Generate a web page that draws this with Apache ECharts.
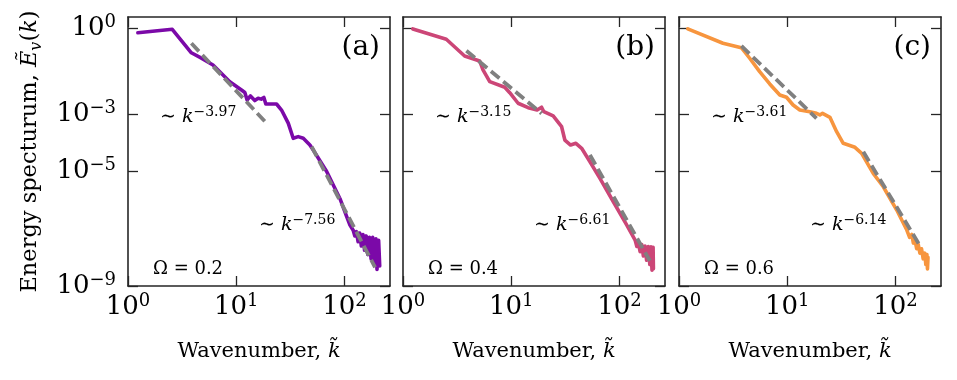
<!DOCTYPE html>
<html>
<head>
<meta charset="utf-8">
<script src="https://cdn.jsdelivr.net/npm/echarts@6/dist/echarts.min.js"></script>
<style>
html, body { margin: 0; padding: 0; background: #fff; }
#chart { width: 957px; height: 380px; }
</style>
</head>
<body>
<div id="chart"></div>
<script>
// values (k, E) per panel
const kA = [1.233, 2.564, 3.846, 4.764, 6.095, 8.71, 11.17, 12.0, 12.59, 13.52, 14.83, 15.92, 16.98, 17.99, 18.75, 23.55, 26.18, 30.2, 33.57, 37.33, 41.59, 47.86, 51.4, 68.39, 90.78, 104.7, 112.2,
  120.2, 124.5, 128.8, 133.4, 138.0, 142.9, 147.9, 153.1, 158.5, 164.1, 169.8, 175.8, 182.0, 188.4, 195.0, 199.5, 206.5, 211.3];
const eA = [0.708, 0.933, 0.141, 0.0912, 0.0525, 0.0138, 0.00708, 0.00575, 0.00316, 0.00437, 0.00302, 0.00363, 0.00339, 0.00389, 0.00229, 0.00229, 0.00141, 4.9e-4, 1.45e-4, 1.66e-4, 1.45e-4, 8.51e-5, 5.62e-5, 1.0e-5, 1.12e-6, 2.63e-7, 1.35e-7,
  8.91e-8, 5.62e-8, 7.94e-8, 3.55e-8, 7.08e-8, 2.51e-8, 6.31e-8, 1.78e-8, 5.62e-8, 1.26e-8, 5.01e-8, 8.91e-9, 5.01e-8, 5.62e-9, 4.47e-8, 3.8e-9, 3.98e-8, 5.01e-9];

const kB = [1.233, 2.512, 3.707, 5.105, 5.483, 6.324, 8.71, 9.683, 11.56, 14.32, 17.34, 19.05, 20.0, 24.38, 29.17, 31.26, 35.32, 39.54, 44.67, 53.33, 65.92, 87.7, 116.7, 139.3,
  144.5, 149.6, 154.9, 160.3, 166.0, 171.8, 177.8, 184.1, 190.5, 195.0, 199.5, 204.2, 205.6];
const eB = [0.962, 0.419, 0.109, 0.0731, 0.0354, 0.0138, 0.00879, 0.00569, 0.00243, 0.0017, 0.00141, 0.00176, 0.00123, 8.73e-4, 3.68e-4, 1.26e-4, 8.43e-5, 9.68e-5, 6.47e-5, 2.2e-5, 5.78e-6, 8.79e-7, 1.35e-7, 4.03e-8,
  2.4e-8, 3.16e-8, 1.58e-8, 2.82e-8, 1.12e-8, 2.51e-8, 7.94e-9, 2.4e-8, 5.62e-9, 2.34e-8, 3.55e-9, 2.24e-8, 3.98e-9];

const kC = [1.205, 2.547, 3.767, 4.498, 5.559, 6.887, 8.531, 9.84, 11.32, 13.06, 16.14, 18.62, 20.0, 21.18, 24.77, 28.58, 32.89, 42.17, 48.64, 62.23, 77.09, 102.6, 127.1,
  134.9, 141.3, 146.2, 151.4, 156.7, 162.2, 167.9, 173.8, 179.9, 186.2, 190.5, 195.0, 197.2, 199.5];
const eC = [0.962, 0.304, 0.213, 0.0908, 0.0309, 0.0115, 0.00473, 0.00393, 0.00211, 0.00141, 0.00123, 0.00108, 9.46e-4, 0.00108, 7.85e-4, 2.47e-4, 9.68e-5, 7.01e-5, 4.33e-5, 8.65e-6, 2.94e-6, 4.51e-7, 9.02e-8,
  5.01e-8, 6.31e-8, 3.16e-8, 3.98e-8, 2.0e-8, 2.82e-8, 1.41e-8, 2.0e-8, 8.91e-9, 1.41e-8, 5.62e-9, 1.26e-8, 3.98e-9, 1.0e-8];

// dashed power-law guides, end points [k, E]
const fitA1 = [[3.85, 0.302], [19.05, 4.9e-4]];
const fitA2 = [[49.7, 7.41e-5], [191.4, 4.47e-9]];
const fitB1 = [[3.85, 0.166], [19.05, 1.07e-3]];
const fitB2 = [[53.3, 3.8e-5], [190.5, 7.6e-9]];
const fitC1 = [[3.77, 0.245], [18.62, 7.24e-4]];
const fitC2 = [[50.4, 4.9e-5], [168.7, 2.51e-8]];

const panelTags = ['(a)', '(b)', '(c)'];
const omegas = ['0.2', '0.4', '0.6'];
const slopes1 = ['\u22123.97', '\u22123.15', '\u22123.61'];
const slopes2 = ['\u22127.56', '\u22126.61', '\u22126.14'];
const xTicks = [1, 10, 100];
const yTicks = [1, 1e-3, 1e-5, 1e-9];

const SERIF = '"DejaVu Serif", "DejaVu Sans", serif';
const INK = '#262626';
const colors = ['#7b09a8', '#cc4677', '#f7953e'];
const gridLefts = [128, 403, 679];
const xMin = 1, xMax = 263, yMin = 1e-9, yMax = 2.51;

const panels = [
  { k: kA, e: eA, fits: [fitA1, fitA2] },
  { k: kB, e: eB, fits: [fitB1, fitB2] },
  { k: kC, e: eC, fits: [fitC1, fitC2] }
];

function supLabel(v) {
  const p = Math.round(Math.log10(v));
  return '{b|10}{s|' + (p < 0 ? '\u2212' + (-p) : p) + '}';
}
const tickRich = {
  b: { fontFamily: SERIF, fontSize: 26, lineHeight: 30, color: '#000' },
  s: { fontFamily: SERIF, fontSize: 18, lineHeight: 18, verticalAlign: 'top', color: '#000' }
};
const tickLine = { color: INK, width: 1.3 };
const frame = { onZero: false, lineStyle: { color: INK, width: 1.6 } };

const chart = echarts.init(document.getElementById('chart'));
const grids = [], xAxes = [], yAxes = [], series = [], graphics = [];

panels.forEach((p, i) => {
  const L = gridLefts[i];
  grids.push({ left: L, top: 17, width: 262, height: 269 });
  xAxes.push({
    type: 'log', logBase: 10, gridIndex: i, position: 'bottom', min: xMin, max: xMax,
    axisLine: frame, splitLine: { show: false },
    axisTick: { inside: true, length: 10, customValues: xTicks, lineStyle: tickLine },
    axisLabel: { customValues: xTicks, formatter: supLabel, margin: 6, rich: tickRich },
    name: '{t|Wavenumber, }{i|k\u0303}', nameLocation: 'middle', nameGap: 52,
    nameTextStyle: { rich: {
      t: { fontFamily: SERIF, fontSize: 21, color: '#000', lineHeight: 28 },
      i: { fontFamily: SERIF, fontSize: 21, fontStyle: 'italic', color: '#000', lineHeight: 28 }
    } }
  });
  xAxes.push({
    type: 'log', logBase: 10, gridIndex: i, position: 'top', min: xMin, max: xMax,
    axisLine: frame, splitLine: { show: false },
    axisTick: { inside: true, length: 10, customValues: xTicks, lineStyle: tickLine },
    axisLabel: { show: false }
  });
  const yLeft = {
    type: 'log', logBase: 10, gridIndex: i, position: 'left', min: yMin, max: yMax,
    axisLine: frame, splitLine: { show: false },
    axisTick: { inside: true, length: 10, customValues: yTicks, lineStyle: tickLine },
    axisLabel: { show: i === 0, customValues: yTicks, formatter: supLabel, margin: 12, rich: tickRich }
  };
  if (i === 0) {
    yLeft.name = '{t|Energy specturum, }{i|\u1EBC}{sub|v}{t|(}{i|k}{t|)}';
    yLeft.nameLocation = 'middle';
    yLeft.nameGap = 83;
    yLeft.nameRotate = 90;
    yLeft.nameTextStyle = { rich: {
      t: { fontFamily: SERIF, fontSize: 22.5, color: '#000', lineHeight: 30 },
      i: { fontFamily: SERIF, fontSize: 22.5, fontStyle: 'italic', color: '#000', lineHeight: 30 },
      sub: { fontFamily: SERIF, fontSize: 16, fontStyle: 'italic', color: '#000', lineHeight: 18, verticalAlign: 'bottom' }
    } };
  }
  yAxes.push(yLeft);
  yAxes.push({
    type: 'log', logBase: 10, gridIndex: i, position: 'right', min: yMin, max: yMax,
    axisLine: frame, splitLine: { show: false },
    axisTick: { inside: true, length: 10, customValues: yTicks, lineStyle: tickLine },
    axisLabel: { show: false }
  });

  series.push({
    type: 'line', xAxisIndex: 2 * i, yAxisIndex: 2 * i, showSymbol: false, z: 2,
    data: p.k.map((k, j) => [k, p.e[j]]),
    lineStyle: { color: colors[i], width: 3.6, join: 'round', cap: 'round' }
  });
  p.fits.forEach(f => {
    series.push({
      type: 'line', xAxisIndex: 2 * i, yAxisIndex: 2 * i, showSymbol: false, z: 3, data: f,
      lineStyle: { color: '#808080', width: 3.8, type: [11, 5] }
    });
  });

  const noteRich = {
    n: { fontFamily: SERIF, fontSize: 19, fill: '#000', lineHeight: 24 },
    i: { fontFamily: SERIF, fontSize: 19, fontStyle: 'italic', fill: '#000', lineHeight: 24 },
    s: { fontFamily: SERIF, fontSize: 14, fill: '#000', lineHeight: 14, verticalAlign: 'top' }
  };
  graphics.push({ type: 'text', x: L + 252, y: 48, style: { text: panelTags[i], fontFamily: SERIF, fontSize: 28, fill: '#000', align: 'right', verticalAlign: 'middle' } });
  graphics.push({ type: 'text', x: L + 32, y: 117, style: { text: '{n|\u223C }{i|k}{s|' + slopes1[i] + '}', rich: noteRich, align: 'left', verticalAlign: 'middle' } });
  graphics.push({ type: 'text', x: L + 131, y: 225, style: { text: '{n|\u223C }{i|k}{s|' + slopes2[i] + '}', rich: noteRich, align: 'left', verticalAlign: 'middle' } });
  graphics.push({ type: 'text', x: L + 25, y: 269, style: { text: '\u03A9 = ' + omegas[i], fontFamily: SERIF, fontSize: 18, fill: '#000', align: 'left', verticalAlign: 'middle' } });
});

chart.setOption({
  animation: false,
  grid: grids,
  xAxis: xAxes,
  yAxis: yAxes,
  series: series,
  graphic: { elements: graphics }
});
</script>
</body>
</html>
